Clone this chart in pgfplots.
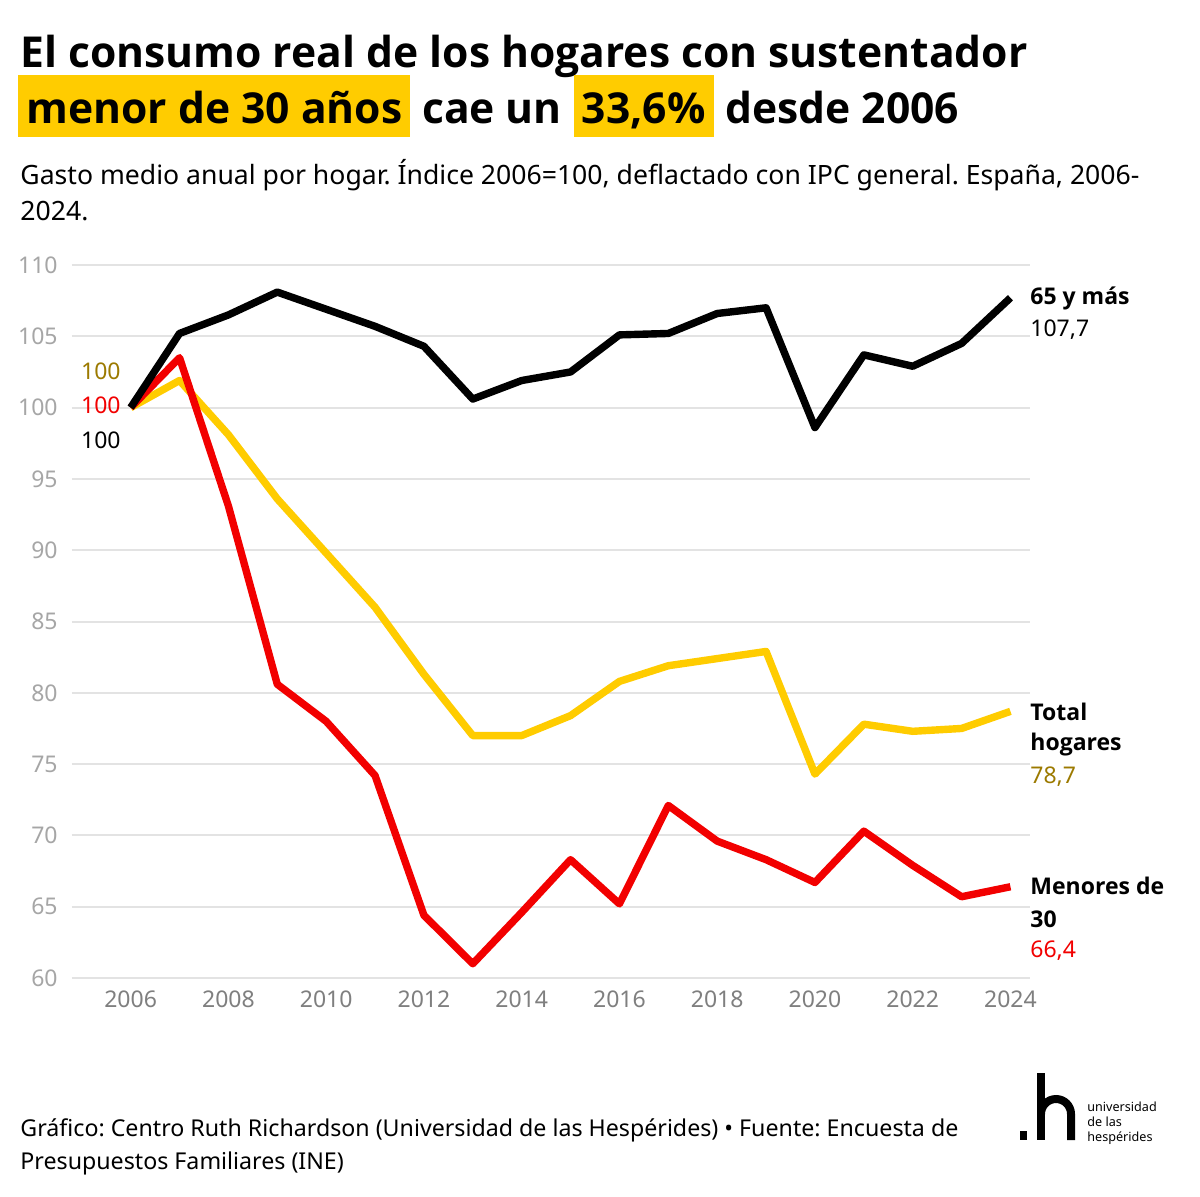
\documentclass[border=0pt]{standalone}
\usepackage{fontspec}
\setmainfont{Noto Sans}
\newfontfamily\bsans{Open Sans}
\usepackage{pgfplots}
\pgfplotsset{compat=1.18}
\definecolor{cYel}{HTML}{FFCC00}
\definecolor{cRed}{HTML}{F20000}
\definecolor{cOli}{HTML}{9C7A00}
\definecolor{cGrid}{HTML}{E3E3E3}
\definecolor{cTickY}{HTML}{A6A6A6}
\definecolor{cTickX}{HTML}{7F7F7F}
\frenchspacing
\begin{document}
\begin{tikzpicture}[x=0.5pt,y=-0.5pt]
\path[use as bounding box, fill=white] (0,0) rectangle (1200,1196);
\coordinate (axpos) at (72,978);
\begin{axis}[at={(axpos)}, anchor=south west, scale only axis,
  width=479pt, height=356.5pt,
  xmin=2004.8, xmax=2024.4, ymin=60, ymax=110,
  clip=false,
  axis line style={draw=none},
  major tick length=0pt,
  xtick={2006,2008,...,2024},
  ytick={60,65,...,110},
  ymajorgrids, grid style={cGrid, line width=1pt},
  /pgf/number format/assume math mode=true,
  /pgf/number format/1000 sep={},
  yticklabel style={font=\fontsize{11.5}{13}\selectfont, text=cTickY, anchor=east, inner sep=0pt, xshift=-7pt},
  xticklabel style={font=\fontsize{11.5}{13}\selectfont, text=cTickX, anchor=north, inner sep=0pt, yshift=-6pt},
]
\addplot[cYel, line width=3.7pt, line join=round] coordinates {
(2006,100) (2007,101.9) (2008,98.1) (2009,93.6) (2010,89.8) (2011,86.0) (2012,81.3) (2013,77.0) (2014,77.0) (2015,78.4) (2016,80.8) (2017,81.9) (2018,82.4) (2019,82.9) (2020,74.3) (2021,77.8) (2022,77.3) (2023,77.5) (2024,78.7)};
\addplot[cRed, line width=3.7pt, line join=round] coordinates {
(2006,100) (2007,103.5) (2008,93.1) (2009,80.6) (2010,78.0) (2011,74.2) (2012,64.4) (2013,61.0) (2014,64.6) (2015,68.3) (2016,65.2) (2017,72.1) (2018,69.6) (2019,68.3) (2020,66.7) (2021,70.3) (2022,67.9) (2023,65.7) (2024,66.4)};
\addplot[black, line width=3.7pt, line join=round] coordinates {
(2006,100) (2007,105.2) (2008,106.5) (2009,108.1) (2010,106.9) (2011,105.7) (2012,104.3) (2013,100.6) (2014,101.9) (2015,102.5) (2016,105.1) (2017,105.2) (2018,106.6) (2019,107.0) (2020,98.6) (2021,103.7) (2022,102.9) (2023,104.5) (2024,107.7)};
\end{axis}
% title
\node[anchor=base west, inner sep=0pt, font=\fontsize{21.3}{25}\selectfont\bsans\bfseries] at (20,67) {El consumo real de los hogares con sustentador};
\node[anchor=base west, fill=cYel, inner xsep=4pt, inner ysep=0pt, text height=24pt, text depth=7pt, font=\fontsize{21.3}{25}\selectfont\bsans\bfseries] (h1) at (18,123) {menor de 30 años};
\node[anchor=base west, inner xsep=5.5pt, inner ysep=0pt, font=\fontsize{21.3}{25}\selectfont\bsans\bfseries] (t2) at (h1.base east) {cae un};
\node[anchor=base west, fill=cYel, inner xsep=4pt, inner ysep=0pt, text height=24pt, text depth=7pt, font=\fontsize{21.3}{25}\selectfont\bsans\bfseries] (h2) at (t2.base east) {33,6\%};
\node[anchor=base west, inner xsep=5.5pt, inner ysep=0pt, font=\fontsize{21.3}{25}\selectfont\bsans\bfseries] at (h2.base east) {desde 2006};
% subtitle
\node[anchor=base west, inner sep=0pt, font=\fontsize{13.3}{16}\selectfont] at (20,184) {Gasto medio anual por hogar. Índice 2006=100, deflactado con IPC general. España, 2006-};
\node[anchor=base west, inner sep=0pt, font=\fontsize{13.3}{16}\selectfont] at (20,220) {2024.};
% left labels
\node[anchor=east, inner sep=0pt, text=cOli, font=\fontsize{11.5}{13}\selectfont] at (121,371) {100};
\node[anchor=east, inner sep=0pt, text=cRed, font=\fontsize{11.5}{13}\selectfont] at (121,405) {100};
\node[anchor=east, inner sep=0pt, text=black, font=\fontsize{11.5}{13}\selectfont] at (121,440) {100};
% right labels
\node[anchor=west, inner sep=0pt, font=\fontsize{11.5}{13}\selectfont\bsans\bfseries] at (1030,298) {65 y más};
\node[anchor=west, inner sep=0pt, font=\fontsize{11.5}{13}\selectfont] at (1030,330) {107,7};
\node[anchor=west, inner sep=0pt, font=\fontsize{11.5}{13}\selectfont\bsans\bfseries] at (1030,712) {Total};
\node[anchor=west, inner sep=0pt, font=\fontsize{11.5}{13}\selectfont\bsans\bfseries] at (1030,745) {hogares};
\node[anchor=west, inner sep=0pt, text=cOli, font=\fontsize{11.5}{13}\selectfont] at (1030,777) {78,7};
\node[anchor=west, inner sep=0pt, font=\fontsize{11.5}{13}\selectfont\bsans\bfseries] at (1030,886) {Menores de};
\node[anchor=west, inner sep=0pt, font=\fontsize{11.5}{13}\selectfont\bsans\bfseries] at (1030,919) {30};
\node[anchor=west, inner sep=0pt, text=cRed, font=\fontsize{11.5}{13}\selectfont] at (1030,951) {66,4};
% footer
\node[anchor=base west, inner sep=0pt, font=\fontsize{11.6}{14}\selectfont] at (20,1136) {Gráfico: Centro Ruth Richardson (Universidad de las Hespérides) • Fuente: Encuesta de};
\node[anchor=base west, inner sep=0pt, font=\fontsize{11.6}{14}\selectfont] at (20,1169) {Presupuestos Familiares (INE)};
% logo
\fill[black] (1020,1131) rectangle (1027,1140);
\fill[black] (1037,1073) rectangle (1045,1140);
\draw[black, line width=4pt] (1041,1114) arc[start angle=180, end angle=360, radius=15] -- (1071,1140);
\node[anchor=base west, inner sep=0pt, font=\fontsize{6.3}{7}\selectfont] at (1087,1111) {universidad};
\node[anchor=base west, inner sep=0pt, font=\fontsize{6.3}{7}\selectfont] at (1087,1126) {de las};
\node[anchor=base west, inner sep=0pt, font=\fontsize{6.3}{7}\selectfont] at (1087,1141) {hespérides};
\end{tikzpicture}
\end{document}
